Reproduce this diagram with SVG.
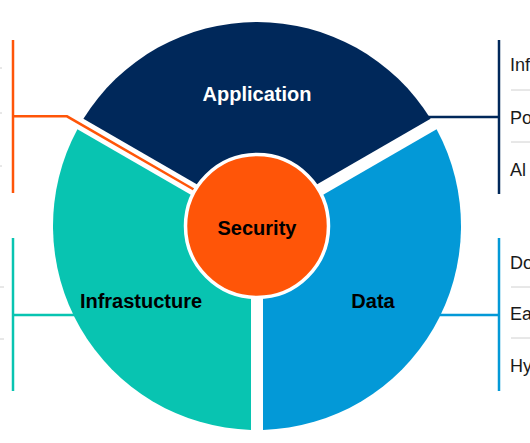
<svg xmlns="http://www.w3.org/2000/svg" width="530" height="443" viewBox="0 0 530 443">
<style>
.lbl{font-family:"Liberation Sans",Arial,sans-serif;font-weight:700;font-size:20px;text-anchor:middle}
.item{font-family:"Liberation Sans",Arial,sans-serif;font-size:18px;fill:#1a1a1a}
.sep{stroke:#d0d0d0;stroke-width:1}
.conn{fill:none;stroke-width:2.5}
</style>
<rect width="530" height="443" fill="#ffffff"/>
<g id="side-lists">
<text class="item" x="510" y="70.7">Inf</text>
<text class="item" x="510" y="124">Po</text>
<text class="item" x="510" y="175.7">Al</text>
<line class="sep" x1="511" y1="90" x2="530" y2="90"/>
<line class="sep" x1="511" y1="142" x2="530" y2="142"/>
<text class="item" x="510" y="269.3">Do</text>
<text class="item" x="510" y="320">Ea</text>
<text class="item" x="510" y="371.7">Hy</text>
<line class="sep" x1="511" y1="287" x2="530" y2="287"/>
<line class="sep" x1="511" y1="338" x2="530" y2="338"/>
<line class="sep" x1="0" y1="287" x2="4" y2="287"/>
<line class="sep" x1="0" y1="339" x2="4" y2="339"/>
<line class="sep" x1="0" y1="68" x2="2" y2="68"/>
<line class="sep" x1="0" y1="113" x2="2" y2="113"/>
<line class="sep" x1="0" y1="166" x2="2" y2="166"/>
</g>
<g id="application">
<path d="M257 219.07 L83.41 118.85 A204 204 0 0 1 430.59 118.85 Z" fill="#00285a"/>
<text class="lbl" x="257" y="101" fill="#ffffff">Application</text>
</g>
<g id="infrastructure">
<path d="M251 229.46 L251 429.91 A204 204 0 0 1 77.41 129.24 Z" fill="#08c4b1"/>
<text class="lbl" x="141" y="308" fill="#000000">Infrastucture</text>
</g>
<g id="data">
<path d="M263 229.46 L436.59 129.24 A204 204 0 0 1 263 429.91 Z" fill="#0399d7"/>
<text class="lbl" x="373" y="308" fill="#000000">Data</text>
</g>
<g id="connectors">
<polyline class="conn" stroke="#ff5508" points="13,116.3 67,116.3 193.8,189.5"/>
<line class="conn" stroke="#ff5508" x1="13" y1="40" x2="13" y2="193"/>
<polyline class="conn" stroke="#00285a" points="428,117 499,117"/>
<line class="conn" stroke="#00285a" x1="499" y1="40" x2="499" y2="194"/>
<polyline class="conn" stroke="#08c4b1" points="13,315 74,315"/>
<line class="conn" stroke="#08c4b1" x1="13" y1="238" x2="13" y2="391"/>
<polyline class="conn" stroke="#0399d7" points="440,315 499,315"/>
<line class="conn" stroke="#0399d7" x1="499" y1="238" x2="499" y2="391"/>
</g>
<g id="security">
<circle cx="257" cy="226" r="71.5" fill="#ff5508" stroke="#ffffff" stroke-width="3.5"/>
<text class="lbl" x="257" y="235" fill="#000000">Security</text>
</g>
</svg>
